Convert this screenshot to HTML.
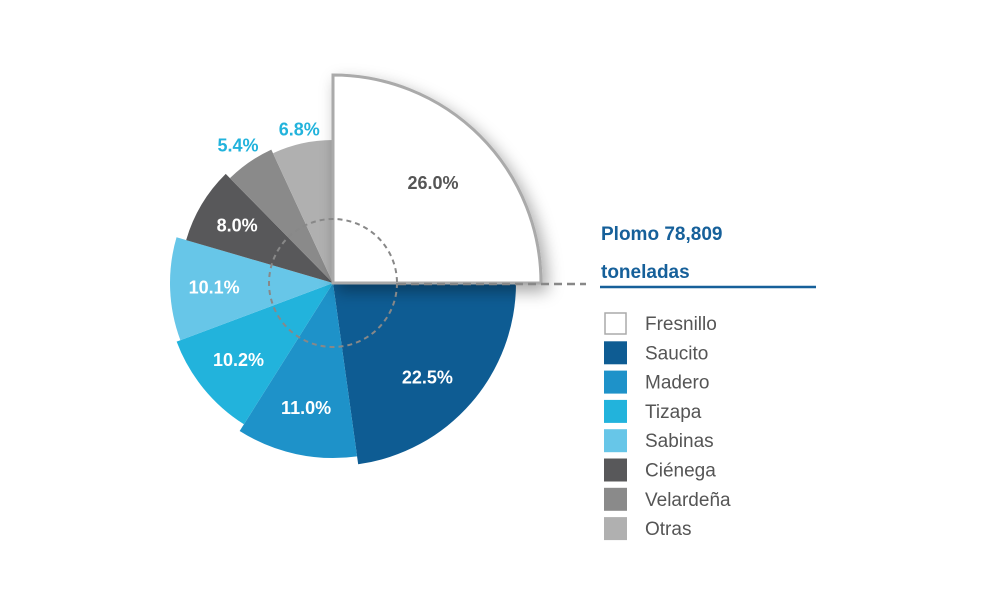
<!DOCTYPE html>
<html><head><meta charset="utf-8"><style>
body{margin:0;background:#fff;width:990px;height:600px;overflow:hidden;font-family:"Liberation Sans",sans-serif}
svg{position:absolute;left:0;top:0}
</style></head><body>
<svg id="chart" width="990" height="600">
<defs>
<filter id="sh" x="-20%" y="-20%" width="150%" height="150%"><feDropShadow dx="5" dy="7" stdDeviation="8" flood-color="#000" flood-opacity="0.35"/></filter>
</defs>
<g id="slices"></g>
<circle cx="333" cy="283" r="64" fill="none" stroke="#888" stroke-width="2" stroke-dasharray="5,4"/>
<line x1="398" y1="284" x2="586" y2="284" stroke="#888" stroke-width="2.5" stroke-dasharray="8,5"/>
<g id="labels"></g>
<text x="601" y="240" font-size="19" font-weight="bold" fill="#16609a">Plomo 78,809</text>
<text x="601" y="278" font-size="19" font-weight="bold" fill="#16609a">toneladas</text>
<line x1="600" y1="287" x2="816" y2="287" stroke="#16609a" stroke-width="2.5"/>
<g id="legend"></g>
</svg>
<script>
const categories=["Fresnillo","Saucito","Madero","Tizapa","Sabinas","Ciénega","Velardeña","Otras"];
const values=[26.0,22.5,11.0,10.2,10.1,8.0,5.4,6.8];
const valueLabels=["26.0%","22.5%","11.0%","10.2%","10.1%","8.0%","5.4%","6.8%"];
const colors=["#ffffff","#0e5c93","#1e92c9","#22b3dc","#67c6e8","#58585a","#8a8a8a","#b0b0b0"];
const radii=[208,183,175,167,163,153,147,143];
const cx=333,cy=283,NS="http://www.w3.org/2000/svg";
const sg=document.getElementById('slices'),lg=document.getElementById('labels'),leg=document.getElementById('legend');
function pt(a,r){const t=a*Math.PI/180;return [cx+r*Math.sin(t),cy-r*Math.cos(t)];}
const rest=values.slice(1).reduce((a,b)=>a+b,0);
let ang=90;
const els=[];
values.forEach((v,i)=>{
  let a0,a1;
  if(i===0){a0=0;a1=90;}else{a0=ang;a1=ang+v/rest*270;ang=a1;}
  const r=radii[i];
  const p0=pt(a0,r),p1=pt(a1,r);
  const path=document.createElementNS(NS,'path');
  path.setAttribute('d',`M${cx},${cy}L${p0[0]},${p0[1]}A${r},${r} 0 ${a1-a0>180?1:0} 1 ${p1[0]},${p1[1]}Z`);
  path.setAttribute('fill',colors[i]);
  if(i===0){path.setAttribute('stroke','#aaa');path.setAttribute('stroke-width','3');path.setAttribute('filter','url(#sh)');}
  
  
  els.push(path);
  let mid=(a0+a1)/2;
  const small=v<7;
  let lr;
  if(small){lr=r+(v<6?20:14);}else if(i===0){lr=r*0.68;}else{lr=r*0.73;}
  if(i===1)mid+=4;
  const lp=pt(mid,lr);
  const t=document.createElementNS(NS,'text');
  t.setAttribute('x',lp[0]);t.setAttribute('y',lp[1]+6);
  t.setAttribute('text-anchor','middle');t.setAttribute('font-size','18');t.setAttribute('font-weight','bold');
  t.setAttribute('fill',i===0?'#555':(small?'#22b3dc':'#fff'));
  t.textContent=valueLabels[i];
  
  
  lg.appendChild(t);
  const y=323+i*29.3;
  const s=document.createElementNS(NS,'rect');
  s.setAttribute('x',i===0?605:604);s.setAttribute('y',y-11+(i===0?1:0));s.setAttribute('width',i===0?21:23);s.setAttribute('height',i===0?21:23);
  s.setAttribute('fill',colors[i]);
  if(i===0){s.setAttribute('stroke','#aaa');s.setAttribute('stroke-width','1.5');}
  
  
  leg.appendChild(s);
  const lt=document.createElementNS(NS,'text');
  lt.setAttribute('x',645);lt.setAttribute('y',y+7);lt.setAttribute('font-size','19');lt.setAttribute('fill','#555');
  lt.textContent=categories[i];
  
  
  leg.appendChild(lt);
});
for(let i=1;i<els.length;i++)sg.appendChild(els[i]);
sg.appendChild(els[0]);
</script>
</body></html>
